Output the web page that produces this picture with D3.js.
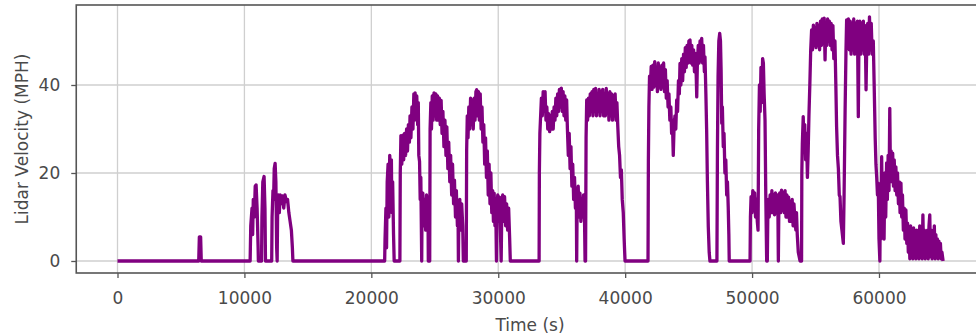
<!DOCTYPE html>
<html>
<head>
<meta charset="utf-8">
<script src="https://cdn.jsdelivr.net/npm/d3@7"></script>
<style>
  html, body { margin: 0; padding: 0; background: #fff; }
  svg { display: block; }
  text { font-family: "DejaVu Sans", sans-serif; }
</style>
</head>
<body>
<svg id="chart" width="976" height="336"></svg>
<script>
const xTicks = [0, 10000, 20000, 30000, 40000, 50000, 60000];
const yTicks = [0, 20, 40];
const xLabel = "Time (s)";
const yLabel = "Lidar Velocity (MPH)";

// [time (s), lidar velocity (mph)]
const lidarVelocity = [
[0,0],[6400,0],[6450,5.5],[6550,5.5],[6600,0],[10450,0],
[10500,8],[10600,12],[10650,6],[10700,14],[10780,10],[10850,17],[10920,17.3],[11000,12],[11080,3],[11100,0],
[11350,0],[11380,10],[11450,18],[11550,19.2],[11620,12],[11660,0],
[12150,0],[12180,10],[12250,16],[12300,14],[12350,21],[12420,22.2],[12480,18],[12540,3],[12580,0],[12620,12],[12680,15],[12750,11],[12820,15],[12880,13],
[13000,14.8],[13100,12],[13200,15],[13300,13.5],[13400,14],[13500,11],[13600,9],[13700,7],[13780,3],[13820,0],
[21050,0],
[21080,5],[21150,12],[21200,3],[21250,18],[21320,22],[21380,10],[21450,24],[21520,20],[21580,23],[21620,11],[21680,18],[21750,6],[21800,0],
[22250,0],[22280,20],[22330,28.5],[22400,22],[22480,28.6],[22550,23],[22620,29],[22700,24],[22780,30],[22850,25],[22920,31],[23000,27],[23050,33],[23120,28],[23200,35],[23280,30],[23350,38],[23400,32],[23450,38.2],[23520,33],[23580,37.5],[23650,31],[23700,36],[23740,24],[23800,22.6],[23850,14],[23900,19],[23970,0],
[24000,14],[24060,15.4],[24120,8],[24200,14],[24280,7],[24350,15],[24420,9],[24460,14],[24490,0],
[24600,0],[24630,30],[24690,36],[24740,30],[24800,37.5],[24870,32],[24940,38.2],[25010,33],[25080,38],[25150,32],[25220,37.5],[25290,32],[25360,37],[25430,31],[25500,36.5],[25570,29],[25640,34],[25720,26],[25800,32],[25880,24],[25950,30.5],[26030,21],[26100,27],[26180,18],[26250,24],[26330,15],[26400,22],[26480,13],[26550,18.4],[26630,10],[26700,16],[26780,8],[26830,12],[26860,0],[26900,11],[26970,14],[27050,7],[27120,13],[27200,8],[27250,0],
[27480,0],[27510,25],[27560,33],[27620,28],[27680,35],[27750,30],[27820,37],[27890,31],[27960,36.5],[28030,30],[28100,37],[28170,32],[28240,38.5],[28300,38.9],[28370,33],[28440,38.5],[28510,32],[28580,38],[28650,30],[28720,35],[28790,27],[28860,31],[28930,22],[29000,28],[29070,19],[29140,25],[29210,15],[29280,22],[29350,13],[29420,20],[29490,11],[29560,16],[29620,9],[29680,15.4],[29740,8],[29800,13],[29860,0],
[29900,12],[29960,15],[30030,9],[30100,14.5],[30170,7],[30230,0],[30280,12],[30350,15],[30420,9],[30500,14.6],[30580,8],[30660,13],[30740,7],[30820,12],[30900,5],[30950,0],
[33220,0],[33240,20],[33280,29],[33340,33],[33400,37],[33470,33],[33540,38.5],[33620,34],[33690,38.5],[33760,32],[33830,35],[33900,30],[33970,33.5],[34050,29.4],[34120,33],[34190,30],[34260,34],[34330,30],[34400,35],[34470,32],[34540,37],[34610,33],[34680,38],[34750,34],[34820,39],[34900,35],[34970,39.3],[35040,34],[35110,38.5],[35180,33],[35250,37.5],[35320,32],[35390,36.6],[35450,30],[35520,24],[35590,29],[35660,21],[35730,26],[35800,17],[35870,22],[35940,14],[36010,19],[36080,12],[36150,16],[36180,0],
[36220,14],[36300,17],[36370,10],[36440,15.4],[36510,9],[36580,14],[36650,10],[36720,15],[36800,9],[36840,0],
[36880,0],[36920,28],[36970,36.6],[37040,32],[37110,37],[37180,33],[37250,38],[37320,34],[37390,38.5],[37460,33],[37530,39],[37600,34],[37670,39.2],[37740,33],[37810,38],[37880,34],[37950,39],[38020,33],[38090,38.5],[38160,34],[38230,39],[38300,33],[38370,38],[38440,33],[38510,39.2],[38580,34],[38650,38],[38720,32],[38790,38.5],[38860,33],[38930,38],[39000,32],[39070,37.5],[39140,33],[39210,38],[39280,32],[39350,36],[39420,30.5],[39490,26],[39560,24],[39630,19],[39700,20.7],[39770,14],[39850,11],[39920,5],[39990,0],
[41800,0],[41830,23],[41870,35],[41920,42],[41980,39],[42050,44.2],[42120,39],[42190,44.5],[42260,39.5],[42330,45.3],[42400,40],[42470,44],[42540,38.5],[42610,45],[42680,39.5],[42750,44],[42820,39],[42890,44.5],[42960,39.5],[43030,45],[43100,38.5],[43170,43.5],[43240,37],[43310,41],[43380,35],[43450,38],[43520,32],[43600,35],[43660,29],[43720,32],[43790,24],[43850,30],[43920,33],[43990,30],[44060,36.6],[44130,34],[44200,41],[44270,38],[44320,44.9],[44390,40],[44460,46],[44530,41],[44600,47],[44670,43],[44740,48.5],[44810,44],[44880,49],[44950,45],[45020,50],[45110,50.2],[45180,45],[45250,49],[45320,44.5],[45390,48],[45460,43],[45530,47.2],[45600,42],[45640,37.3],[45690,45],[45760,49],[45830,45],[45900,50],[45970,46],[46030,50.6],[46100,45],[46170,49],[46240,43],[46290,46.4],[46360,38],[46420,29.8],[46480,18],[46550,7.8],[46620,2],[46680,0],
[47230,0],[47270,25],[47320,42],[47380,50],[47450,51.7],[47510,50],[47560,43.4],[47610,31.3],[47660,35],[47730,26],[47790,29],[47860,20],[47930,23],[48000,15],[48060,18],[48120,12.3],[48170,6],[48200,0],
[49840,0],[49870,10],[49920,14.6],[49990,11],[50060,16],[50130,12],[50200,15.5],[50270,10],[50340,14],[50410,9],[50470,7],[50520,30],[50580,40],[50640,34],[50700,44],[50760,36],[50830,46],[50890,45],[50950,38],[51020,32],[51080,15],[51150,0],
[51200,0],[51240,10],[51280,14],[51350,10],[51420,15],[51490,11],[51560,16],[51630,11],[51700,15],[51770,10.5],[51840,15.5],[51910,11],[51980,15],[52040,10],[52070,0],
[52110,12],[52180,15.5],[52250,11],[52320,16.1],[52390,11.5],[52460,15.5],[52530,11],[52600,16],[52670,10],[52740,15],[52810,10],[52880,14.5],[52950,9],[53020,13.5],[53090,9],[53160,14],[53230,8],[53300,13],[53380,9],[53450,7],[53500,11],[53560,6],[53640,2],[53780,0],
[53900,0],[53920,20],[53960,26.7],[54030,32.8],[54090,26],[54150,31],[54220,23],[54290,29],[54360,19],[54420,25],[54480,33],[54550,40],[54620,48],[54690,52.5],[54760,48],[54830,53.6],[54900,49],[54970,53],[55040,48.5],[55110,54],[55180,49],[55250,53.5],[55320,48],[55390,54.5],[55460,49],[55530,55],[55600,50],[55680,55.2],[55750,45.7],[55810,54],[55880,49],[55950,55],[56020,50],[56090,54.5],[56160,49],[56230,54],[56300,48],[56370,53.5],[56440,46],[56530,50],[56600,40],[56660,30.5],[56730,24],[56800,21],[56870,15],[56930,14.6],[57000,9],[57080,7],[57190,4],
[57250,15],[57330,34.3],[57400,48],[57450,54.8],[57520,49],[57590,55],[57660,48],[57730,54.5],[57800,47],[57870,54],[57940,48],[58010,55],[58080,47],[58150,54],[58220,48],[58300,54.5],[58370,32.8],[58420,50],[58490,54.5],[58560,47],[58630,54],[58700,48],[58770,54.5],[58840,47],[58910,53.5],[58980,38.9],[59040,50],[59110,54],[59180,47],[59250,55.5],[59320,48],[59390,54],[59460,47],[59550,50],[59620,40],[59700,28],[59760,22],[59820,19],[59880,15],[59940,17.7],[60000,5],[60070,0],
[60110,15],[60160,5],[60210,23.7],[60270,8],[60340,17.7],[60400,5],[60460,20],[60530,10],[60600,22.3],[60660,14],[60720,24],[60790,16],[60850,34.7],[60900,20],[60960,25],[61020,18],[61080,24.5],[61140,17],[61200,23],[61270,16],[61330,21.4],[61400,15],[61460,20],[61530,13],[61600,18],[61660,11],[61730,17.7],[61790,10],[61850,15],[61920,7],[61990,12],[62050,5],[62120,11.6],[62190,4],[62250,8.6],[62310,2],[62370,7],
[62430,0.5],[62490,8],[62550,1],[62610,7],[62670,0.5],[62730,7.5],[62790,1],[62850,6],[62910,0.5],[62970,7],[63030,1],[63090,6.5],[63150,0.5],[63210,8],[63270,1],[63330,7],[63400,0.5],[63460,10.5],[63520,1],[63580,7],[63640,0.5],[63700,6],[63760,1],[63820,7],[63880,0.5],[63940,8],[64000,10.5],[64060,1],[64120,7],[64180,0.5],[64240,6.5],[64300,1],[64360,8],[64420,0.5],[64480,6],[64540,1],[64600,5],[64660,0.5],[64720,4.5],[64780,1],[64840,4],[64900,0.5],[64960,2],[65050,0]
];

const svg = d3.select("#chart");
const plotL = 76.25, plotR = 983.7, plotT = 5, plotB = 273;

const x = d3.scaleLinear().domain([-3250, 68250]).range([plotL, plotR]);
const y = d3.scaleLinear().domain([-2.73, 58.18]).range([plotB, plotT]);

svg.append("rect").attr("width", 976).attr("height", 336).attr("fill", "#fff");

svg.append("defs").append("clipPath").attr("id", "clip")
  .append("rect").attr("x", plotL).attr("y", plotT)
  .attr("width", plotR - plotL).attr("height", plotB - plotT);

// grid
const grid = svg.append("g").attr("stroke", "#cfcfcf").attr("stroke-width", 1.3);
grid.selectAll("line.vx").data(xTicks).join("line")
  .attr("class", "vx")
  .attr("x1", d => x(d)).attr("x2", d => x(d))
  .attr("y1", plotT).attr("y2", plotB);
grid.selectAll("line.hy").data(yTicks).join("line")
  .attr("class", "hy")
  .attr("x1", plotL).attr("x2", plotR)
  .attr("y1", d => y(d)).attr("y2", d => y(d));

// line
const line = d3.line().x(d => x(d[0])).y(d => y(d[1]));
svg.append("path")
  .datum(lidarVelocity)
  .attr("clip-path", "url(#clip)")
  .attr("fill", "none")
  .attr("stroke", "#800080")
  .attr("stroke-width", 3.3)
  .attr("stroke-linejoin", "round")
  .attr("d", line);

// axes
const xAxis = d3.axisBottom(x).tickValues(xTicks).tickFormat(d3.format("d")).tickSize(5).tickPadding(14);
const yAxis = d3.axisLeft(y).tickValues(yTicks).tickFormat(d3.format("d")).tickSize(5).tickPadding(11);

const gx = svg.append("g").attr("transform", `translate(0,${plotB})`).call(xAxis);
const gy = svg.append("g").attr("transform", `translate(${plotL},0)`).call(yAxis);
[gx, gy].forEach(g => {
  g.select(".domain").remove();
  g.selectAll(".tick line").attr("stroke", "#555").attr("stroke-width", 1.3);
  g.selectAll(".tick text").attr("fill", "#4a4a4a").attr("font-size", 17)
    .attr("font-family", "DejaVu Sans, sans-serif");
});

// frame
svg.append("rect")
  .attr("x", plotL).attr("y", plotT)
  .attr("width", plotR - plotL).attr("height", plotB - plotT)
  .attr("fill", "none").attr("stroke", "#555").attr("stroke-width", 1.6);

// labels
svg.append("text")
  .attr("x", (plotL + plotR) / 2).attr("y", 331)
  .attr("text-anchor", "middle")
  .attr("font-size", 17).attr("fill", "#4a4a4a")
  .text(xLabel);

svg.append("text")
  .attr("transform", `translate(28,${(plotT + plotB) / 2}) rotate(-90)`)
  .attr("text-anchor", "middle")
  .attr("font-size", 17).attr("fill", "#4a4a4a")
  .text(yLabel);
</script>
</body>
</html>
